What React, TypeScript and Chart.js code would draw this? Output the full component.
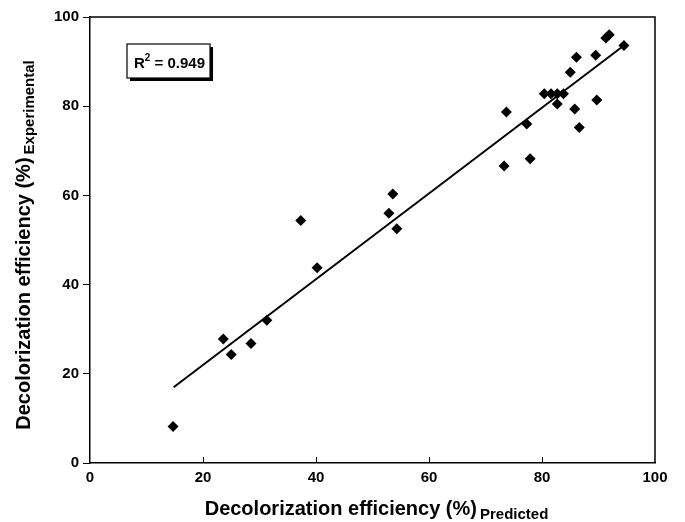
import React, { useEffect, useRef } from 'react';
import { Chart, registerables } from 'chart.js';

Chart.register(...registerables);

// Data
const predicted = [14.7, 23.6, 25.0, 28.5, 31.3, 37.3, 40.2, 52.9, 53.6, 54.3, 73.3, 73.7, 77.3, 77.9, 80.4, 81.6, 82.7, 83.8, 82.7, 85.0, 85.8, 86.1, 86.6, 89.5, 89.7, 91.3, 91.9, 94.5];
const experimental = [8.2, 27.8, 24.3, 26.8, 32.0, 54.4, 43.8, 56.0, 60.3, 52.5, 66.6, 78.7, 76.0, 68.2, 82.8, 82.8, 82.8, 82.8, 80.5, 87.6, 79.4, 91.0, 75.2, 91.4, 81.4, 95.3, 96.0, 93.6];
const fitX = [14.8, 94.5];
const fitY = [17.0, 93.6];
const xTicks = [0, 20, 40, 60, 80, 100];
const yTicks = [0, 20, 40, 60, 80, 100];
const titleMain = 'Decolorization efficiency (%)';
const xSub = 'Predicted';
const ySub = 'Experimental';
const r2Value = '0.949';

const FONT = 'Arial, "Liberation Sans", Helvetica, sans-serif';

const decorPlugin = {
  id: 'decor',
  afterDraw(chart: any) {
    const { ctx, chartArea, scales } = chart;
    const { left, right, top, bottom } = chartArea;
    ctx.save();
    // frame top & right
    ctx.strokeStyle = '#000';
    ctx.lineWidth = 1.5;
    ctx.beginPath();
    ctx.moveTo(left, top);
    ctx.lineTo(right, top);
    ctx.lineTo(right, bottom);
    ctx.stroke();
    // inward x ticks
    ctx.lineWidth = 1;
    xTicks.forEach((v) => {
      if (v === xTicks[0] || v === xTicks[xTicks.length - 1]) return;
      const px = Math.round(scales.x.getPixelForValue(v)) + 0.5;
      ctx.beginPath();
      ctx.moveTo(px, bottom);
      ctx.lineTo(px, bottom - 6);
      ctx.stroke();
    });

    // R² box
    const bx = left + 37;
    const by = top + 27;
    ctx.font = `bold 15px ${FONT}`;
    const wR = ctx.measureText('R').width;
    ctx.font = `bold 10px ${FONT}`;
    const w2 = ctx.measureText('2').width;
    ctx.font = `bold 15px ${FONT}`;
    const wRest = ctx.measureText(' = ' + r2Value).width;
    const bw = wR + w2 + wRest + 12;
    const bh = 34;
    ctx.fillStyle = '#000';
    ctx.fillRect(bx + 3, by + 3, bw, bh);
    ctx.fillStyle = '#fff';
    ctx.fillRect(bx, by, bw, bh);
    ctx.strokeStyle = '#000';
    ctx.lineWidth = 1.2;
    ctx.strokeRect(bx, by, bw, bh);
    ctx.fillStyle = '#000';
    ctx.textBaseline = 'alphabetic';
    ctx.textAlign = 'left';
    const base = by + 24;
    ctx.font = `bold 15px ${FONT}`;
    ctx.fillText('R', bx + 7, base);
    ctx.font = `bold 10px ${FONT}`;
    ctx.fillText('2', bx + 7 + wR, base - 7);
    ctx.font = `bold 15px ${FONT}`;
    ctx.fillText(' = ' + r2Value, bx + 7 + wR + w2, base);

    // X title
    ctx.font = `bold 20px ${FONT}`;
    const wm = ctx.measureText(titleMain).width;
    ctx.font = `bold 15px ${FONT}`;
    const wsx = ctx.measureText(xSub).width;
    const total = wm + 3 + wsx;
    const cx = (left + right) / 2 + 4;
    const sx = cx - total / 2;
    const xb = 515;
    ctx.font = `bold 20px ${FONT}`;
    ctx.fillText(titleMain, sx, xb);
    ctx.font = `bold 15px ${FONT}`;
    ctx.fillText(xSub, sx + wm + 3, xb + 4);

    // Y title (rotated)
    ctx.font = `bold 15px ${FONT}`;
    const wsy = ctx.measureText(ySub).width;
    const totalY = wm + 3 + wsy;
    const cy = (top + bottom) / 2 + 5;
    ctx.translate(30, cy);
    ctx.rotate(-Math.PI / 2);
    const sy = -totalY / 2;
    ctx.font = `bold 20px ${FONT}`;
    ctx.fillText(titleMain, sy, 0);
    ctx.font = `bold 15px ${FONT}`;
    ctx.fillText(ySub, sy + wm + 3, 4);
    ctx.restore();
  },
};

export default function App() {
  const ref = useRef<HTMLCanvasElement | null>(null);

  useEffect(() => {
    if (!ref.current) return;
    const points = predicted.map((x, i) => ({ x, y: experimental[i] }));
    const fit = fitX.map((x, i) => ({ x, y: fitY[i] }));
    const chart = new Chart(ref.current, {
      type: 'scatter',
      data: {
        datasets: [
          {
            type: 'line',
            data: fit,
            borderColor: '#000',
            borderWidth: 2,
            pointRadius: 0,
            fill: false,
            order: 2,
          } as any,
          {
            data: points,
            pointStyle: 'rectRot',
            pointRadius: 5.5,
            pointHoverRadius: 5.5,
            backgroundColor: '#000',
            borderColor: '#000',
            borderWidth: 0,
            order: 1,
          },
        ],
      },
      options: {
        animation: false,
        responsive: false,
        devicePixelRatio: 1,
        layout: { padding: { top: 17, right: 30, left: 0, bottom: 0 } },
        plugins: { legend: { display: false }, tooltip: { enabled: false } },
        scales: {
          x: {
            type: 'linear',
            min: 0,
            max: 100,
            afterBuildTicks: (s: any) => {
              s.ticks = xTicks.map((v) => ({ value: v }));
            },
            ticks: {
              color: '#000',
              font: { family: FONT, size: 15, weight: 'bold' },
              padding: 6,
              maxRotation: 0,
            },
            grid: { display: true, drawOnChartArea: false, drawTicks: false, color: '#000' },
            border: { display: true, color: '#000', width: 1.5 },
            afterFit: (s: any) => {
              s.height = 59;
            },
          },
          y: {
            type: 'linear',
            min: 0,
            max: 100,
            afterBuildTicks: (s: any) => {
              s.ticks = yTicks.map((v) => ({ value: v }));
            },
            ticks: {
              color: '#000',
              font: { family: FONT, size: 15, weight: 'bold' },
              padding: 4,
            },
            grid: { display: true, drawOnChartArea: false, drawTicks: true, tickLength: 7, color: '#000' },
            border: { display: true, color: '#000', width: 1.5 },
            afterFit: (s: any) => {
              s.width = 90;
            },
          },
        },
      },
      plugins: [decorPlugin],
    });
    return () => chart.destroy();
  }, []);

  return (
    <div style={{ position: 'fixed', left: 0, top: 0, width: 685, height: 522, background: '#fff' }}>
      <canvas ref={ref} width={685} height={522} style={{ width: 685, height: 522, display: 'block' }} />
    </div>
  );
}
